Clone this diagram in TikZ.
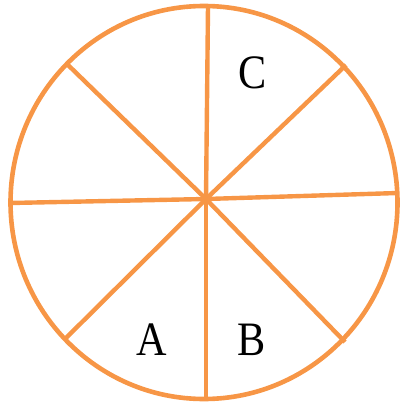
\documentclass[tikz,border=0pt]{standalone}
\usepackage{fontspec}
\setmainfont{Liberation Serif}
\definecolor{wheelorange}{HTML}{F79646}
\begin{document}
\begin{tikzpicture}[x=1pt,y=-1pt,
    rim/.style={draw=wheelorange,line width=4.6pt},
    spoke/.style={draw=wheelorange,line width=4.4pt},
    sector/.style={text=black,font=\fontsize{48}{52}\selectfont,inner sep=0pt,xscale=0.88}]
  \useasboundingbox (0,0) rectangle (400,403);
  % outer rim
  \draw[rim] (204,202.5) ellipse (193.5 and 196.5);
  % spokes
  \coordinate (hub) at (206,199);
  \foreach \px/\py [count=\i] in {208/6, 346/65, 398/193, 345/342,
      206/399, 65/339, 10/203, 68/65} {
    \coordinate (tip\i) at (\px,\py);
    \draw[spoke] (hub) -- (tip\i);
  }
  % sector labels
  \node[sector] (secC) at (253,73) {C};
  \node[sector] (secA) at (152,340) {A};
  \node[sector] (secB) at (252,340) {B};
\end{tikzpicture}
\end{document}
